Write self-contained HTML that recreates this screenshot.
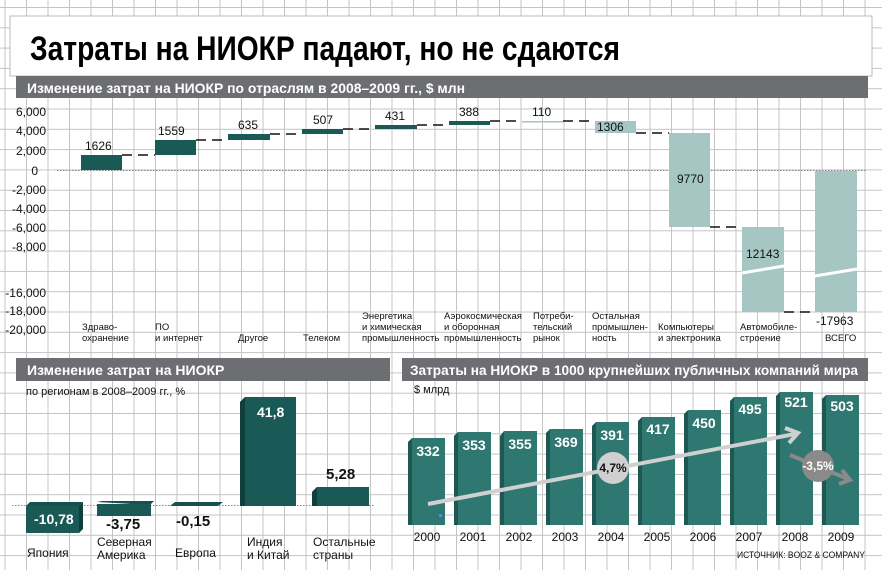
<!DOCTYPE html>
<html><head><meta charset="utf-8"><style>
body{margin:0;padding:0;background:#fff}
svg{display:block}
text{font-family:"Liberation Sans",sans-serif}
.ax{font-size:12px;fill:#111}
.cat{font-size:9.5px;fill:#111}
.wl{font-size:12px;fill:#111}
.bw{font-size:14px;font-weight:bold;fill:#fff}
.hd{font-size:14px;font-weight:bold;fill:#fff}
</style></head><body>
<svg width="882" height="570" viewBox="0 0 882 570" xmlns="http://www.w3.org/2000/svg">
<defs>
<pattern id="g" x="4.5" y="7" width="21.5" height="20.3" patternUnits="userSpaceOnUse">
<path d="M0.5 0V20.3M0 0.5H21.5" stroke="#c4c4c4" stroke-width="1" fill="none"/>
</pattern>
</defs>
<rect width="882" height="570" fill="#fff"/>
<rect width="882" height="570" fill="url(#g)"/>
<rect x="10" y="16" width="862" height="60" fill="#fff" stroke="#bbb"/>
<text x="30" y="60" font-size="34" font-weight="bold" fill="#000" textLength="590" lengthAdjust="spacingAndGlyphs">Затраты на НИОКР падают, но не сдаются</text>
<rect x="16" y="76" width="852" height="22" fill="#6d6e71"/>
<text class="hd" x="27" y="93" textLength="438" lengthAdjust="spacingAndGlyphs">Изменение затрат на НИОКР по отраслям в 2008–2009 гг., $ млн</text>
<g class="ax" text-anchor="end">
<text x="46" y="116">6,000</text><text x="46" y="135">4,000</text><text x="46" y="155">2,000</text>
<text x="38" y="175">0</text><text x="46" y="194">-2,000</text><text x="46" y="213">-4,000</text>
<text x="46" y="232">-6,000</text><text x="46" y="251">-8,000</text><text x="46" y="297">-16,000</text>
<text x="46" y="315">-18,000</text><text x="46" y="334">-20,000</text>
</g>
<line x1="57" y1="170.5" x2="866" y2="170.5" stroke="#888" stroke-dasharray="1.5 1.5"/>
<rect x="81" y="155" width="41" height="15" fill="#1a5a56"/>
<rect x="155" y="140" width="41" height="15" fill="#1a5a56"/>
<rect x="228" y="134" width="42" height="6" fill="#1a5a56"/>
<rect x="302" y="129" width="41" height="5" fill="#1a5a56"/>
<rect x="375" y="125" width="42" height="4" fill="#1a5a56"/>
<rect x="449" y="121" width="41" height="4" fill="#1a5a56"/>
<rect x="522" y="121" width="41" height="1.5" fill="#a6c6c4"/>
<rect x="595" y="121" width="41" height="12" fill="#a6c6c4"/>
<rect x="669" y="133" width="41" height="94" fill="#a6c6c4"/>
<rect x="742" y="227" width="42" height="85" fill="#a6c6c4"/>
<rect x="815" y="171" width="42" height="141" fill="#a6c6c4"/>
<line x1="742" y1="273" x2="784" y2="266" stroke="#fff" stroke-width="3"/>
<line x1="815" y1="276" x2="857" y2="269" stroke="#fff" stroke-width="3"/>
<g stroke="#111" stroke-width="1.5" stroke-dasharray="10 6">
<line x1="122" y1="155" x2="155" y2="155"/><line x1="196" y1="140" x2="228" y2="140"/>
<line x1="270" y1="134" x2="302" y2="134"/><line x1="343" y1="129" x2="375" y2="129"/>
<line x1="417" y1="125" x2="449" y2="125"/><line x1="490" y1="121" x2="522" y2="121"/>
<line x1="563" y1="121" x2="595" y2="121"/><line x1="636" y1="133" x2="669" y2="133"/>
<line x1="710" y1="227" x2="742" y2="227"/><line x1="784" y1="312" x2="815" y2="312"/>
</g>
<g class="wl">
<text x="85" y="150">1626</text><text x="158" y="135">1559</text><text x="238" y="129">635</text>
<text x="313" y="124">507</text><text x="385" y="120">431</text><text x="459" y="116">388</text>
<text x="532" y="116">110</text><text x="597" y="131">1306</text><text x="677" y="183">9770</text>
<text x="746" y="258">12143</text><text x="816" y="325">-17963</text>
</g>
<g class="cat">
<text x="82" y="330">Здраво-</text><text x="82" y="341">охранение</text>
<text x="155" y="330">ПО</text><text x="155" y="341">и интернет</text>
<text x="238" y="341">Другое</text>
<text x="303" y="341">Телеком</text>
<text x="362" y="319">Энергетика</text><text x="362" y="330">и химическая</text><text x="362" y="341">промышленность</text>
<text x="444" y="319">Аэрокосмическая</text><text x="444" y="330">и оборонная</text><text x="444" y="341">промышленность</text>
<text x="533" y="319">Потреби-</text><text x="533" y="330">тельский</text><text x="533" y="341">рынок</text>
<text x="592" y="319">Остальная</text><text x="592" y="330">промышлен-</text><text x="592" y="341">ность</text>
<text x="658" y="330">Компьютеры</text><text x="658" y="341">и электроника</text>
<text x="740" y="330">Автомобиле-</text><text x="740" y="341">строение</text>
<text x="825" y="341">ВСЕГО</text>
</g>
<rect x="16" y="358" width="374" height="23" fill="#6d6e71"/>
<text class="hd" x="27" y="375">Изменение затрат на НИОКР</text>
<text x="26" y="395" font-size="11" fill="#111">по регионам в 2008–2009 гг., %</text>
<line x1="12" y1="505.5" x2="375" y2="505.5" stroke="#888" stroke-dasharray="1.5 1.5"/>
<g fill="#16514d">
<polygon points="26,506 30,502 83,502 79,506"/><rect x="26" y="506" width="53" height="27" fill="#1a5a56"/><polygon points="79,506 83,502 83,529 79,533" fill="#103e3b"/>
<polygon points="97,502 102,501 154,501 150,505"/><rect x="97" y="504" width="54" height="12" fill="#1a5a56"/>
<polygon points="170,506 175,502 223,502 218,506"/>
<polygon points="240,402 245,397 296,397 296,506 240,506" fill="#1a5a56"/><polygon points="240,402 245,397 245,506 240,506" fill="#103e3b"/>
<polygon points="312,492 317,487 369,487 369,506 312,506" fill="#1a5a56"/><polygon points="312,492 317,487 317,506 312,506" fill="#103e3b"/>
</g>
<text class="bw" x="34" y="524" font-size="15">-10,78</text>
<text x="106" y="529" font-size="15" font-weight="bold" fill="#111">-3,75</text>
<text x="176" y="526" font-size="15" font-weight="bold" fill="#111">-0,15</text>
<text class="bw" x="257" y="417" font-size="15">41,8</text>
<text x="326" y="479" font-size="15" font-weight="bold" fill="#111">5,28</text>
<g font-size="12" fill="#111">
<text x="27" y="557">Япония</text>
<text x="97" y="546">Северная</text><text x="97" y="559">Америка</text>
<text x="175" y="557">Европа</text>
<text x="247" y="546">Индия</text><text x="247" y="559">и Китай</text>
<text x="313" y="546">Остальные</text><text x="313" y="559">страны</text>
</g>
<rect x="402" y="358" width="466" height="23" fill="#6d6e71"/>
<text class="hd" x="410" y="375" textLength="448" lengthAdjust="spacingAndGlyphs">Затраты на НИОКР в 1000 крупнейших публичных компаний мира</text>
<text x="414" y="393" font-size="11" fill="#111">$ млрд</text>
<g>
<polygon points="408,442 412,438 412,525 408,525" fill="#1f5752"/><rect x="412" y="438" width="33" height="87" fill="#2f7871"/>
<polygon points="454,436 458,432 458,525 454,525" fill="#1f5752"/><rect x="458" y="432" width="33" height="93" fill="#2f7871"/>
<polygon points="500,436 504,431 504,525 500,525" fill="#1f5752"/><rect x="504" y="431" width="33" height="94" fill="#2f7871"/>
<polygon points="546,433 550,429 550,525 546,525" fill="#1f5752"/><rect x="550" y="429" width="33" height="96" fill="#2f7871"/>
<polygon points="592,426 596,422 596,525 592,525" fill="#1f5752"/><rect x="596" y="422" width="33" height="103" fill="#2f7871"/>
<polygon points="638,421 642,417 642,525 638,525" fill="#1f5752"/><rect x="642" y="417" width="33" height="108" fill="#2f7871"/>
<polygon points="684,414 688,410 688,525 684,525" fill="#1f5752"/><rect x="688" y="410" width="33" height="115" fill="#2f7871"/>
<polygon points="730,401 734,397 734,525 730,525" fill="#1f5752"/><rect x="734" y="397" width="33" height="128" fill="#2f7871"/>
<polygon points="776,396 780,392 780,525 776,525" fill="#1f5752"/><rect x="780" y="392" width="33" height="133" fill="#2f7871"/>
<polygon points="822,399 826,395 826,525 822,525" fill="#1f5752"/><rect x="826" y="395" width="33" height="130" fill="#2f7871"/>
</g>
<g class="bw" text-anchor="middle">
<text x="428" y="456">332</text><text x="474" y="450">353</text><text x="520" y="449">355</text>
<text x="566" y="447">369</text><text x="612" y="440">391</text><text x="658" y="434">417</text>
<text x="704" y="428">450</text><text x="750" y="414">495</text><text x="796" y="407">521</text><text x="842" y="411">503</text>
</g>
<rect x="439" y="514" width="3" height="3" fill="#4a8cf0"/>
<line x1="428" y1="504" x2="795" y2="434" stroke="#d0d0d0" stroke-width="4"/>
<polyline points="785,428 798,433 789,443" fill="none" stroke="#d0d0d0" stroke-width="4"/>
<circle cx="613" cy="468" r="16" fill="#d0d0d0"/>
<text x="613" y="472" text-anchor="middle" font-size="12" font-weight="bold" fill="#111">4,7%</text>
<line x1="790" y1="455" x2="848" y2="479" stroke="#8a8a8a" stroke-width="4"/>
<polyline points="842,470 850,480 839,484" fill="none" stroke="#8a8a8a" stroke-width="4"/>
<circle cx="818" cy="466" r="16" fill="#8a8a8a"/>
<text x="818" y="470" text-anchor="middle" font-size="12" font-weight="bold" fill="#fff">-3,5%</text>
<g font-size="12" fill="#111" text-anchor="middle">
<text x="427" y="541">2000</text><text x="473" y="541">2001</text><text x="519" y="541">2002</text>
<text x="565" y="541">2003</text><text x="611" y="541">2004</text><text x="657" y="541">2005</text>
<text x="703" y="541">2006</text><text x="749" y="541">2007</text><text x="795" y="541">2008</text><text x="841" y="541">2009</text>
</g>
<text x="737" y="558" font-size="9.5" fill="#111" textLength="128" lengthAdjust="spacingAndGlyphs">ИСТОЧНИК: BOOZ &amp; COMPANY</text>
</svg>
</body></html>
